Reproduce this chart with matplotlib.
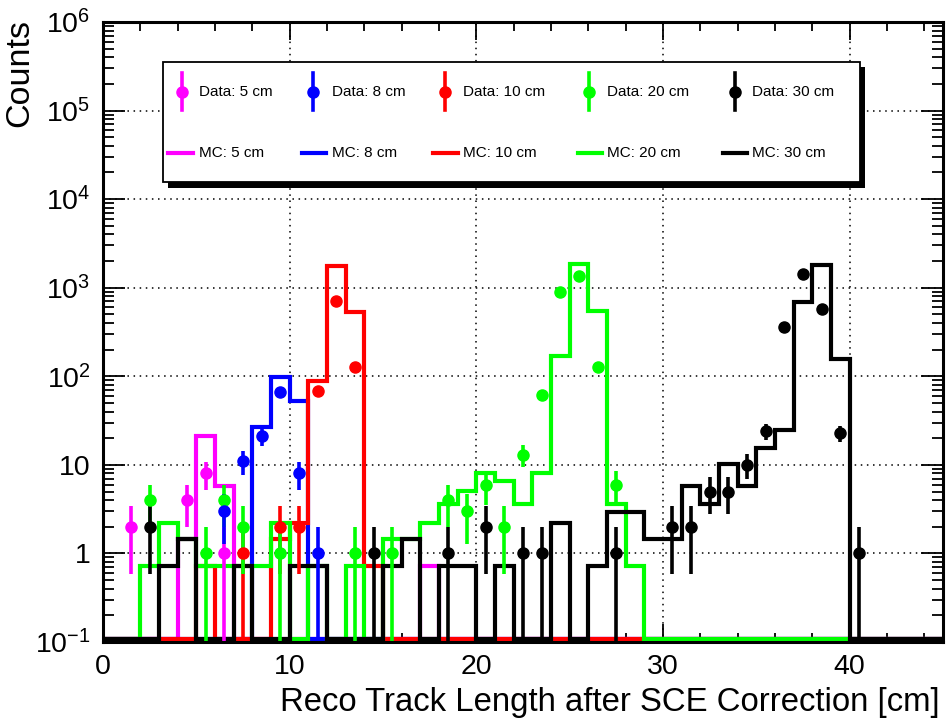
import numpy as np
import matplotlib
matplotlib.use("Agg")
import matplotlib.pyplot as plt
from matplotlib.patches import Rectangle
from matplotlib.lines import Line2D
from matplotlib.ticker import FixedLocator, FixedFormatter, LogLocator, NullFormatter, MultipleLocator

plt.rcParams['font.family'] = ['Liberation Sans', 'DejaVu Sans']
plt.rcParams['mathtext.fontset'] = 'custom'
plt.rcParams['mathtext.rm'] = 'Liberation Sans'
plt.rcParams['mathtext.it'] = 'Liberation Sans:italic'

# ---------------- data ----------------
bin_edges = np.arange(0, 46, 1.0)          # 1 cm bins, 0-45 cm

# scaled MC predictions (one value per bin)
mc_5cm = [0, 0, 0, 0, 1.46, 21.2, 5.84, 0, 0, 0,
          0, 0, 0, 0, 0, 0, 0, 0.73, 0, 0,
          0, 0, 0, 0, 0, 0, 0, 0, 0, 0,
          0, 0, 0, 0, 0, 0, 0, 0, 0, 0,
          0, 0, 0, 0, 0]
mc_8cm = [0, 0, 0, 0, 0, 0, 0, 0, 27.0, 97.0,
          52.6, 0, 0, 0, 0, 0, 0, 0, 0, 0,
          0, 0, 0, 0, 0, 0, 0, 0, 0, 0,
          0, 0, 0, 0, 0, 0, 0, 0, 0, 0,
          0, 0, 0, 0, 0]
mc_10cm = [0, 0, 0, 0, 0, 0.73, 0, 0, 0, 1.46,
           2.19, 88.0, 1780.0, 528.0, 0.73, 0, 0, 0, 0, 0,
           0, 0, 0, 0, 0, 0, 0, 0, 0, 0,
           0, 0, 0, 0, 0, 0, 0, 0, 0, 0,
           0, 0, 0, 0, 0]
mc_20cm = [0, 0, 0.73, 2.19, 1.46, 0.73, 0.73, 0.73, 0.73, 2.19,
           0, 0.73, 0, 0.73, 0, 1.46, 1.46, 2.19, 3.65, 5.11,
           8.03, 6.57, 3.65, 8.03, 170.0, 1840.0, 550.0, 3.65, 0.73, 0,
           0, 0, 0, 0, 0, 0, 0, 0, 0, 0,
           0, 0, 0, 0, 0]
mc_30cm = [0, 0, 0, 0.73, 1.46, 0, 0, 0.73, 0, 0,
           0.73, 0.73, 0, 0, 0, 0.73, 1.46, 0, 0.73, 0.73,
           0, 0.73, 0, 0, 2.19, 0, 0.73, 2.92, 2.92, 1.46,
           1.46, 5.84, 3.65, 10.2, 5.84, 15.3, 24.8, 686.0, 1820.0, 156.0,
           0, 0, 0, 0, 0]

# measured counts at bin centres
data_5cm_x = [1.5, 4.5, 5.5, 6.5]
data_5cm_n = [2, 4, 8, 1]
data_8cm_x = [6.5, 7.5, 8.5, 9.5, 10.5, 11.5]
data_8cm_n = [3, 11, 21, 66, 8, 1]
data_10cm_x = [7.5, 9.5, 10.5, 11.5, 12.5, 13.5]
data_10cm_n = [1, 2, 2, 69, 700, 126]
data_20cm_x = [2.5, 5.5, 6.5, 7.5, 9.5, 13.5, 15.5, 18.5, 19.5, 20.5, 21.5,
               22.5, 23.5, 24.5, 25.5, 26.5, 27.5]
data_20cm_n = [4, 1, 4, 2, 1, 1, 1, 4, 3, 6, 2, 13, 62, 890, 1340, 128, 6]
data_30cm_x = [2.5, 14.5, 18.5, 20.5, 22.5, 23.5, 27.5, 30.5, 31.5, 32.5,
               33.5, 34.5, 35.5, 36.5, 37.5, 38.5, 39.5, 40.5]
data_30cm_n = [2, 1, 1, 2, 1, 1, 1, 2, 2, 5, 5, 10, 24, 364, 1440, 580, 23, 1]

labels = ["5 cm", "8 cm", "10 cm", "20 cm", "30 cm"]
colors = ["#ff00ff", "#0000ff", "#ff0000", "#00ff00", "#000000"]

# ---------------- figure ----------------
W, H = 952, 721
fig = plt.figure(figsize=(W / 100, H / 100), dpi=100)
ax = fig.add_axes([103 / W, 1 - 642 / H, 840 / W, 620 / H])

YMIN, YMAX = 0.1, 1e6
ax.set_yscale('log')
ax.set_xlim(0, 45)
ax.set_ylim(YMIN, YMAX)

# empty bins are drawn resting just on top of the frame
FLOOR = YMIN * 1.075

# MC histograms
for vals, c in zip([mc_5cm, mc_8cm, mc_10cm, mc_20cm, mc_30cm], colors):
    v = np.maximum(np.asarray(vals, float), FLOOR)
    ax.stairs(v, bin_edges, baseline=None, color=c, lw=3.0, zorder=3)

# data points with sqrt(N) errors
data_sets = {
    0: (data_5cm_x, data_5cm_n),
    2: (data_10cm_x, data_10cm_n),
    3: (data_20cm_x, data_20cm_n),
    1: (data_8cm_x, data_8cm_n),
    4: (data_30cm_x, data_30cm_n),
}
for i, (xs, ns) in data_sets.items():
    xs = np.asarray(xs, float)
    ns = np.asarray(ns, float)
    err = np.sqrt(ns)
    lo = np.maximum(ns - err, 1e-3)
    ax.errorbar(xs, ns, yerr=[ns - lo, err], fmt='o', color=colors[i],
                ms=8, elinewidth=2.6, capsize=0, zorder=4)

# grid and axes styling
ax.grid(True, which='major', color='black', ls=(0, (1, 3)), lw=1.1)
ax.set_axisbelow(True)
for s in ax.spines.values():
    s.set_linewidth(2.2)
    s.set_zorder(5)

ax.xaxis.set_major_locator(MultipleLocator(10))
ax.xaxis.set_minor_locator(MultipleLocator(2))
ax.yaxis.set_major_locator(FixedLocator([10.0 ** k for k in range(-1, 7)]))
ax.yaxis.set_major_formatter(FixedFormatter(
    [r"$\mathregular{10^{-1}}$", "1", "10", r"$\mathregular{10^{2}}$",
     r"$\mathregular{10^{3}}$", r"$\mathregular{10^{4}}$",
     r"$\mathregular{10^{5}}$", r"$\mathregular{10^{6}}$"]))
ax.yaxis.set_minor_locator(LogLocator(base=10, subs=np.arange(2, 10), numticks=20))
ax.yaxis.set_minor_formatter(NullFormatter())

ax.tick_params(which='both', direction='in', top=True, right=True, width=1.3,
               labelsize=20.5)
ax.tick_params(axis='x', which='major', length=13, pad=9)
ax.tick_params(axis='x', which='minor', length=6.5)
ax.tick_params(axis='y', which='major', length=16, pad=9)
ax.tick_params(axis='y', which='minor', length=8)

fig.text(20 / W, 1 - 19 / H, "Counts", rotation=90, ha='center', va='top',
         fontsize=24.5)
fig.text(940 / W, 1 - 703 / H, "Reco Track Length after SCE Correction [cm]",
         ha='right', va='center', fontsize=23.7)

# ---------------- legend ----------------
lg = fig.add_axes([0, 0, 1, 1], zorder=10)
lg.set_xlim(0, W)
lg.set_ylim(H, 0)
lg.axis('off')
lg.add_patch(Rectangle((168, 67), 697, 121, facecolor='black', edgecolor='none'))
lg.add_patch(Rectangle((163, 62), 697, 120, facecolor='white', edgecolor='black',
                       lw=1.3))
marker_x = [182, 313, 445, 589, 735]
text_x = [199, 332, 463, 607, 752]
line_x = [(168, 193), (302, 326), (433, 458), (578, 602), (723, 747)]
row1, row2 = 92, 153
for i in range(5):
    c = colors[i]
    lg.add_line(Line2D([marker_x[i], marker_x[i]], [73, 110], color=c, lw=2.6))
    lg.plot([marker_x[i]], [row1], 'o', color=c, ms=8)
    lg.text(text_x[i], row1, "Data: " + labels[i], va='center', ha='left',
            fontsize=11)
    lg.add_line(Line2D(list(line_x[i]), [row2, row2], color=c, lw=3.0))
    lg.text(text_x[i], row2, "MC: " + labels[i], va='center', ha='left',
            fontsize=11)

fig.savefig("out.png", dpi=100)
